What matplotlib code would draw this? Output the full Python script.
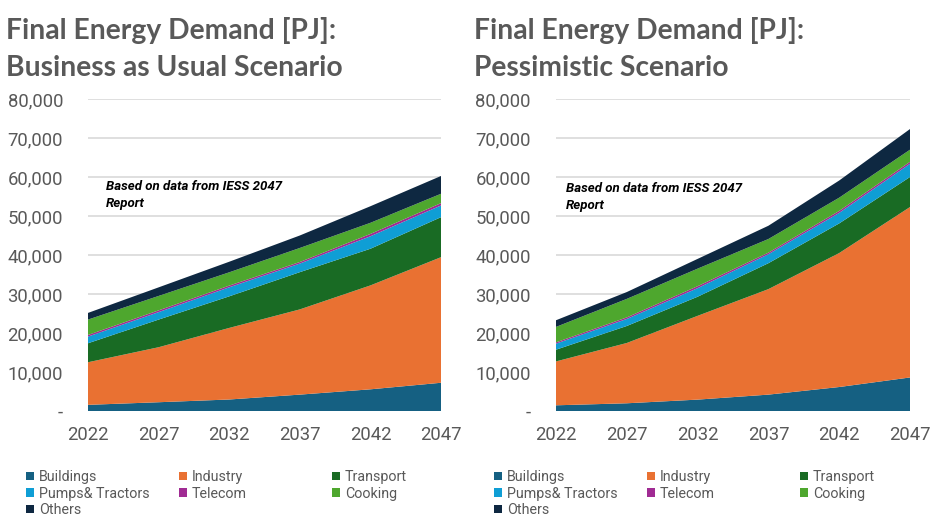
import matplotlib
matplotlib.use("Agg")
import matplotlib.pyplot as plt
from matplotlib.patches import Patch
from matplotlib.ticker import FuncFormatter

years = [2022, 2027, 2032, 2037, 2042, 2047]
categories = ["Buildings", "Industry", "Transport", "Pumps& Tractors", "Telecom", "Cooking", "Others"]
colors = ["#156082", "#E97132", "#196B24", "#0F9ED5", "#A02B93", "#4EA72E", "#0E2841"]

# Business as Usual (PJ) per category
bau_buildings = [1580, 2250, 2950, 4200, 5560, 7240]
bau_industry = [10920, 14100, 18350, 21850, 26640, 32200]
bau_transport = [4870, 7090, 8100, 9550, 9400, 10260]
bau_pumps = [1710, 1910, 2320, 2200, 3200, 3000]
bau_telecom = [420, 450, 430, 400, 600, 600]
bau_cooking = [3940, 3700, 3410, 3600, 2850, 2400]
bau_others = [1710, 2200, 2710, 3200, 4250, 4560]

# Pessimistic scenario (PJ) per category
pes_buildings = [1460, 1980, 2920, 4200, 6150, 8600]
pes_industry = [11250, 15460, 21480, 27050, 34350, 43700]
pes_transport = [3010, 4360, 4900, 6650, 7600, 7700]
pes_pumps = [1550, 1800, 2200, 2300, 2700, 3400]
pes_telecom = [330, 400, 500, 400, 500, 500]
pes_cooking = [3960, 4750, 4500, 3500, 3400, 3100]
pes_others = [1710, 1750, 2500, 3400, 4400, 5300]

title_line1 = "Final Energy Demand [PJ]:"
title_line2 = ["Business as Usual Scenario", "Pessimistic Scenario"]
note = "Based on data from IESS 2047\nReport"

tick_font = "Roboto"
title_font = "Lato"
grey = "#595959"

W, H = 938, 530
fig = plt.figure(figsize=(W / 100, H / 100), dpi=100)
axes_rects = [[88 / W, 119 / H, 353 / W, 312 / H],
              [556 / W, 119 / H, 354 / W, 312 / H]]
data_sets = [
    [bau_buildings, bau_industry, bau_transport, bau_pumps, bau_telecom, bau_cooking, bau_others],
    [pes_buildings, pes_industry, pes_transport, pes_pumps, pes_telecom, pes_cooking, pes_others],
]
note_pos = [(106, 195.5), (566, 197.5)]
title_x = [6, 474]
legend_cols = [[26, 179, 332], [494, 647, 800]]
legend_groups = [[0, 3, 6], [1, 4], [2, 5]]


def fmt(v, pos):
    if v == 0:
        return "-"
    return f"{int(v):,}"


for i in range(2):
    ax = fig.add_axes(axes_rects[i])
    ax.stackplot(years, data_sets[i], colors=colors, labels=categories, linewidth=0)
    ax.set_xlim(2022, 2047)
    ax.set_ylim(0, 80000)
    ax.set_yticks(range(0, 80001, 10000))
    ax.yaxis.set_major_formatter(FuncFormatter(fmt))
    ax.set_xticks(years)
    ax.grid(axis="y", color="#D9D9D9", linewidth=1.2)
    ax.set_axisbelow(True)
    for s in ax.spines.values():
        s.set_visible(False)
    ax.tick_params(length=0, labelcolor=grey)
    ax.tick_params(axis="y", pad=18)
    ax.tick_params(axis="x", pad=11)
    for lab in ax.get_xticklabels() + ax.get_yticklabels():
        lab.set_family(tick_font)
        lab.set_fontsize(13.3)

    fig.text(title_x[i] / W, 1 - 39 / H, title_line1, fontsize=20.3, fontweight="bold",
             color=grey, family=title_font, va="baseline", ha="left")
    fig.text(title_x[i] / W, 1 - 76 / H, title_line2[i], fontsize=20.3, fontweight="bold",
             color=grey, family=title_font, va="baseline", ha="left")

    fig.text(note_pos[i][0] / W, 1 - note_pos[i][1] / H, note, fontsize=9.5,
             fontweight="bold", fontstyle="italic", family="Roboto", color="black",
             va="center", ha="left", linespacing=1.4)

    for col_x, group in zip(legend_cols[i], legend_groups):
        handles = [Patch(facecolor=colors[k], edgecolor="none") for k in group]
        labels = [categories[k] for k in group]
        fig.legend(handles, labels, loc="upper left",
                   bbox_to_anchor=(col_x / W, 1 - 470 / H), ncol=1, frameon=False,
                   prop={"family": tick_font, "size": 10.3}, labelcolor=grey,
                   handlelength=0.56, handleheight=0.56, handletextpad=0.35,
                   labelspacing=0.175, borderaxespad=0, borderpad=0)

fig.savefig("out.png", dpi=100)
